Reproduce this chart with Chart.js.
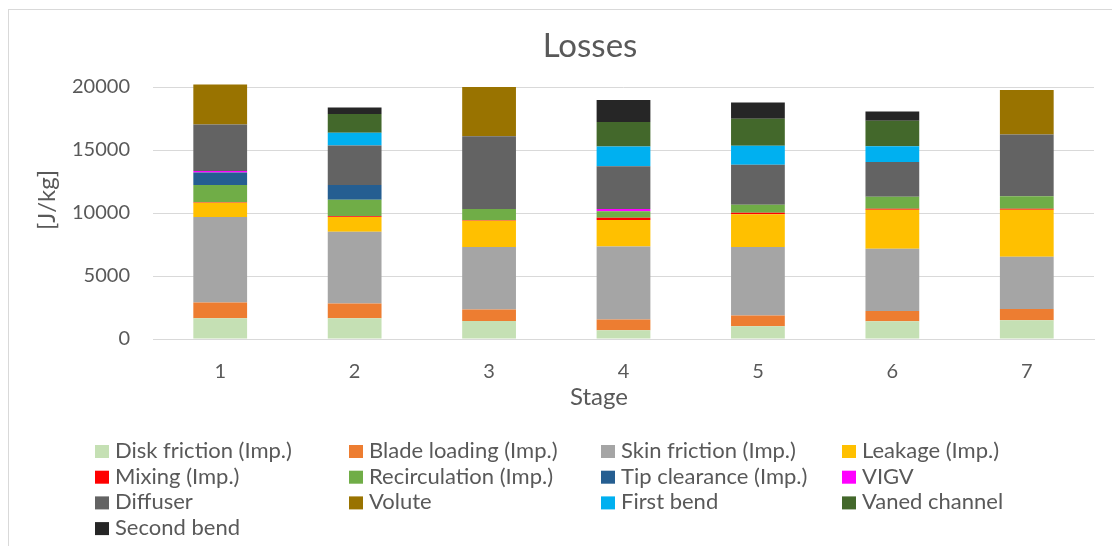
<!DOCTYPE html>
<html>
<head>
<meta charset="utf-8">
<title>Losses</title>
<script src="https://cdn.jsdelivr.net/npm/chart.js@4"></script>
<style>
  html, body { margin: 0; padding: 0; background: #ffffff; overflow: hidden; }
  #wrap { position: relative; width: 1112px; height: 546px; }
  canvas { display: block; }
</style>
</head>
<body>
<div id="wrap"><canvas id="losses" width="1112" height="546"></canvas></div>
<script>
// Loss breakdown per stage, in J/kg
const stages = ['1', '2', '3', '4', '5', '6', '7'];

const diskFriction  = [1647, 1647, 1432,  692, 1010, 1408, 1488];
const bladeLoading  = [1249, 1169,  907,  851,  851,  819,  899];
const skinFriction  = [6786, 5696, 4956, 5807, 5434, 4933, 4136];
const leakage       = [1130, 1175, 2084, 2092, 2601, 3102, 3739];
const mixing        = [  40,   50,   40,  185,  130,   80,   80];
const recirculation = [1376, 1321,  899,  504,  637,  954,  985];
const tipClearance  = [ 978, 1169,    0,    0,    0,    0,    0];
const vigv          = [ 135,    0,    0,  185,    0,    0,    0];
const diffuser      = [3683, 3126, 5783, 3396, 3158, 2761, 4901];
const volute        = [3182,    0, 3898,    0,    0,    0, 3532];
const firstBend     = [   0, 1011,    0, 1560, 1511, 1248,    0];
const vanedChannel  = [   0, 1487,    0, 1941, 2148, 2013,    0];
const secondBend    = [   0,  526,    0, 1750, 1297,  740,    0];

const yTicks = [0, 5000, 10000, 15000, 20000];

const seriesNames = [
  'Disk friction (Imp.)', 'Blade loading (Imp.)', 'Skin friction (Imp.)', 'Leakage (Imp.)',
  'Mixing (Imp.)', 'Recirculation (Imp.)', 'Tip clearance (Imp.)', 'VIGV',
  'Diffuser', 'Volute', 'First bend', 'Vaned channel', 'Second bend'
];
const seriesValues = [
  diskFriction, bladeLoading, skinFriction, leakage,
  mixing, recirculation, tipClearance, vigv,
  diffuser, volute, firstBend, vanedChannel, secondBend
];
const seriesColors = [
  '#C5E0B4', '#ED7D31', '#A5A5A5', '#FFC000',
  '#FF0000', '#70AD47', '#255E91', '#FF00FF',
  '#636363', '#997300', '#00B0F0', '#43682B', '#262626'
];

const FONT = 'Lato, "Open Sans", sans-serif';
const TEXT = '#595959';

// Frame, titles and a four-column legend drawn around the plot
const decorations = {
  id: 'decorations',
  beforeDraw(chart) {
    const ctx = chart.ctx;
    ctx.save();
    ctx.fillStyle = '#ffffff';
    ctx.fillRect(0, 0, chart.width, chart.height);
    ctx.strokeStyle = '#D9D9D9';
    ctx.lineWidth = 1;
    ctx.strokeRect(8.5, 9.5, 1300, 700);
    ctx.restore();
  },
  afterDraw(chart) {
    const ctx = chart.ctx;
    ctx.save();
    ctx.fillStyle = TEXT;

    // chart title
    ctx.font = '33px ' + FONT;
    ctx.textAlign = 'center';
    ctx.textBaseline = 'alphabetic';
    ctx.fillText('Losses', 590, 57);

    // x axis title
    ctx.font = '24px ' + FONT;
    ctx.fillText('Stage', 599, 405);

    // y axis title
    ctx.save();
    ctx.translate(47, 200);
    ctx.rotate(-Math.PI / 2);
    ctx.textBaseline = 'middle';
    ctx.fillText('[J/kg]', 0, 0);
    ctx.restore();

    // legend
    const colX = [95, 349, 601, 842];
    const rowBase = 458, rowStep = 25.7, box = 13;
    ctx.font = '22px ' + FONT;
    ctx.textAlign = 'left';
    ctx.textBaseline = 'alphabetic';
    chart.data.datasets.forEach((ds, i) => {
      const col = i % 4, row = Math.floor(i / 4);
      const x = colX[col];
      const base = rowBase + row * rowStep;
      ctx.fillStyle = ds.backgroundColor;
      ctx.fillRect(x, base - box, box + 1, box);
      ctx.fillStyle = TEXT;
      ctx.fillText(ds.label, x + 20, base);
    });
    ctx.restore();
  }
};

new Chart(document.getElementById('losses'), {
  type: 'bar',
  data: {
    labels: stages,
    datasets: seriesNames.map((name, i) => ({
      label: name,
      data: seriesValues[i],
      backgroundColor: seriesColors[i],
      borderWidth: 0,
      categoryPercentage: 1.0,
      barPercentage: 0.4,
      clip: false
    }))
  },
  options: {
    responsive: false,
    animation: false,
    layout: { padding: { left: 8, right: 18, top: 87, bottom: 167 } },
    plugins: {
      legend: { display: false },
      tooltip: { enabled: false },
      title: { display: false }
    },
    scales: {
      x: {
        stacked: true,
        grid: { display: false, drawTicks: false },
        border: { display: true, color: '#D9D9D9', width: 1 },
        ticks: { color: TEXT, font: { family: FONT, size: 20 }, padding: 21 },
        afterFit(scale) { scale.height = 40; }
      },
      y: {
        stacked: true,
        min: 0,
        max: 20000,
        afterBuildTicks(scale) { scale.ticks = yTicks.map(v => ({ value: v })); },
        grid: { color: '#D9D9D9', lineWidth: 1, drawTicks: false },
        border: { display: false },
        ticks: {
          color: TEXT,
          font: { family: FONT, size: 20 },
          padding: 23,
          callback: (v) => String(v)
        },
        afterFit(scale) { scale.width = 145; }
      }
    }
  },
  plugins: [decorations]
});
</script>
</body>
</html>
